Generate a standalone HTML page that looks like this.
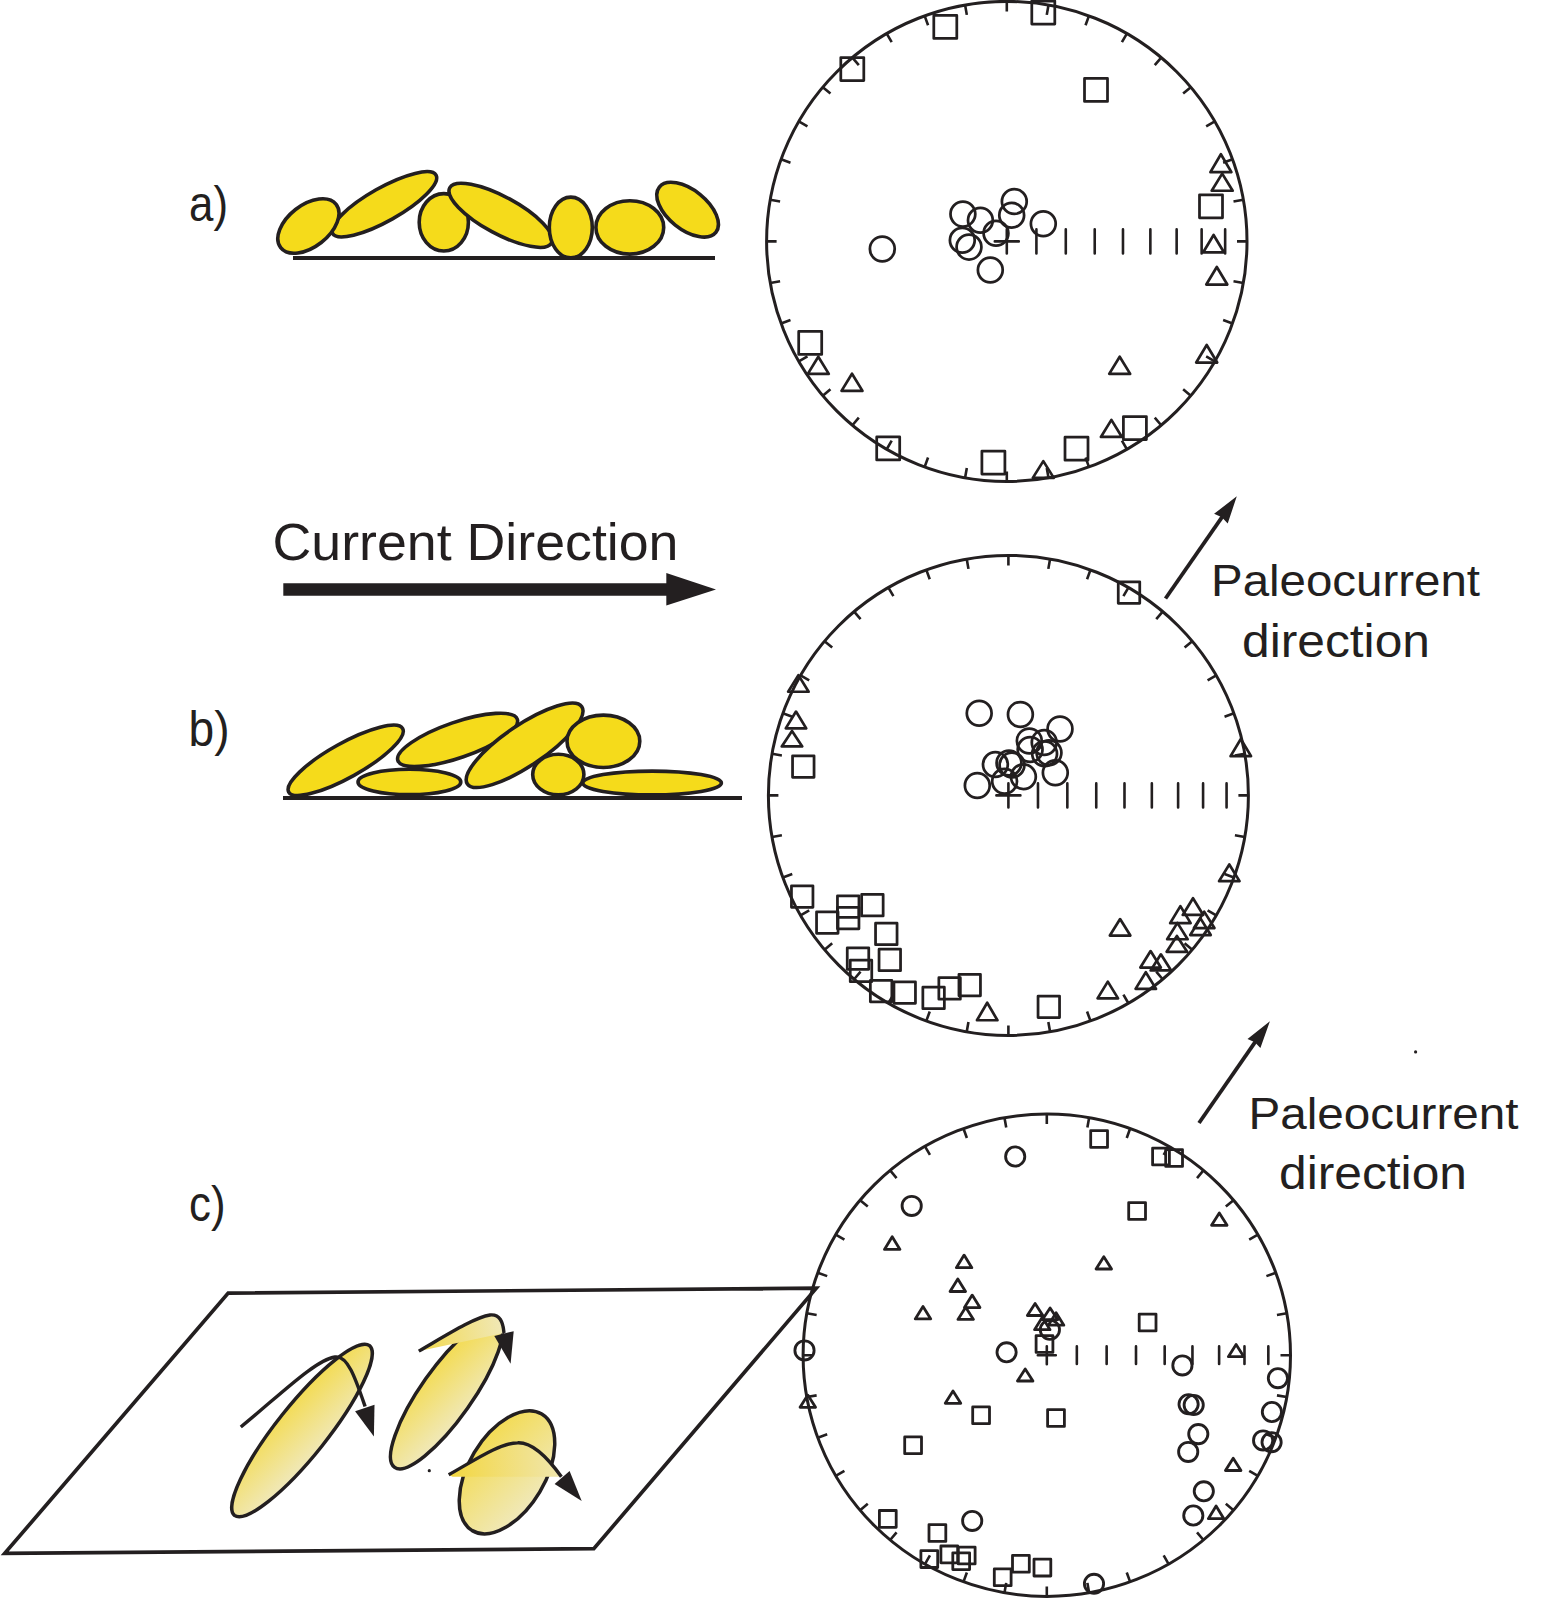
<!DOCTYPE html>
<html><head><meta charset="utf-8"><style>
html,body{margin:0;padding:0;background:#fff;}
svg{display:block;}
</style></head><body>
<svg width="1545" height="1621" viewBox="0 0 1545 1621">
<rect width="1545" height="1621" fill="#fff"/>
<ellipse cx="1006.8" cy="241.4" rx="240.2" ry="240.0" fill="none" stroke="#231F20" stroke-width="3.0"/>
<path d="M1006.80 1.40L1006.80 11.40M1048.51 5.05L1046.77 14.89M1088.95 15.87L1085.53 25.27M1126.90 33.55L1121.90 42.21M1161.20 57.55L1154.77 65.21M1190.80 87.13L1183.14 93.56M1214.82 121.40L1206.16 126.40M1232.51 159.32L1223.12 162.74M1243.35 199.72L1233.50 201.46M1247.00 241.40L1237.00 241.40M1243.35 283.08L1233.50 281.34M1232.51 323.48L1223.12 320.06M1214.82 361.40L1206.16 356.40M1190.80 395.67L1183.14 389.24M1161.20 425.25L1154.77 417.59M1126.90 449.25L1121.90 440.59M1088.95 466.93L1085.53 457.53M1048.51 477.75L1046.77 467.91M1006.80 481.40L1006.80 471.40M965.09 477.75L966.83 467.91M924.65 466.93L928.07 457.53M886.70 449.25L891.70 440.59M852.40 425.25L858.83 417.59M822.80 395.67L830.46 389.24M798.78 361.40L807.44 356.40M781.09 323.48L790.48 320.06M770.25 283.08L780.10 281.34M766.60 241.40L776.60 241.40M770.25 199.72L780.10 201.46M781.09 159.32L790.48 162.74M798.78 121.40L807.44 126.40M822.80 87.13L830.46 93.56M852.40 57.55L858.83 65.21M886.70 33.55L891.70 42.21M924.65 15.87L928.07 25.27M965.09 5.05L966.83 14.89" stroke="#231F20" stroke-width="2.6" fill="none"/>
<path d="M1036.41 229.40V253.40M1065.79 229.40V253.40M1094.72 229.40V253.40M1122.98 229.40V253.40M1150.36 229.40V253.40M1176.65 229.40V253.40M1201.64 229.40V253.40M1225.15 229.40V253.40M994.80 241.40H1018.80M1006.80 229.40V253.40" stroke="#231F20" stroke-width="2.6" stroke-linecap="round" fill="none"/>
<rect x="840.80" y="57.50" width="23" height="23" fill="none" stroke="#231F20" stroke-width="2.75" stroke-linejoin="round"/>
<rect x="933.80" y="15.40" width="23" height="23" fill="none" stroke="#231F20" stroke-width="2.75" stroke-linejoin="round"/>
<rect x="1031.80" y="1.00" width="23" height="23" fill="none" stroke="#231F20" stroke-width="2.75" stroke-linejoin="round"/>
<rect x="1084.50" y="78.40" width="23" height="23" fill="none" stroke="#231F20" stroke-width="2.75" stroke-linejoin="round"/>
<rect x="1199.50" y="194.80" width="23" height="23" fill="none" stroke="#231F20" stroke-width="2.75" stroke-linejoin="round"/>
<rect x="798.70" y="331.40" width="23" height="23" fill="none" stroke="#231F20" stroke-width="2.75" stroke-linejoin="round"/>
<rect x="876.70" y="436.90" width="23" height="23" fill="none" stroke="#231F20" stroke-width="2.75" stroke-linejoin="round"/>
<rect x="981.90" y="451.10" width="23" height="23" fill="none" stroke="#231F20" stroke-width="2.75" stroke-linejoin="round"/>
<rect x="1123.40" y="416.50" width="23" height="23" fill="none" stroke="#231F20" stroke-width="2.75" stroke-linejoin="round"/>
<rect x="1065.00" y="437.20" width="23" height="23" fill="none" stroke="#231F20" stroke-width="2.75" stroke-linejoin="round"/>
<path d="M1220.90 154.25L1231.40 172.15L1210.40 172.15Z" fill="none" stroke="#231F20" stroke-width="2.7" stroke-linejoin="round"/>
<path d="M1222.20 173.65L1232.70 190.75L1211.70 190.75Z" fill="none" stroke="#231F20" stroke-width="2.7" stroke-linejoin="round"/>
<path d="M1213.60 234.95L1224.10 252.45L1203.10 252.45Z" fill="none" stroke="#231F20" stroke-width="2.7" stroke-linejoin="round"/>
<path d="M1216.80 266.95L1227.30 284.55L1206.30 284.55Z" fill="none" stroke="#231F20" stroke-width="2.7" stroke-linejoin="round"/>
<path d="M1206.70 344.95L1217.20 362.55L1196.20 362.55Z" fill="none" stroke="#231F20" stroke-width="2.7" stroke-linejoin="round"/>
<path d="M1119.70 356.75L1130.20 373.85L1109.20 373.85Z" fill="none" stroke="#231F20" stroke-width="2.7" stroke-linejoin="round"/>
<path d="M1111.40 419.85L1121.90 436.95L1100.90 436.95Z" fill="none" stroke="#231F20" stroke-width="2.7" stroke-linejoin="round"/>
<path d="M1043.30 461.15L1053.80 477.85L1032.80 477.85Z" fill="none" stroke="#231F20" stroke-width="2.7" stroke-linejoin="round"/>
<path d="M818.30 356.75L828.80 373.85L807.80 373.85Z" fill="none" stroke="#231F20" stroke-width="2.7" stroke-linejoin="round"/>
<path d="M852.00 373.75L862.50 390.85L841.50 390.85Z" fill="none" stroke="#231F20" stroke-width="2.7" stroke-linejoin="round"/>
<circle cx="882.30" cy="248.90" r="12.4" fill="none" stroke="#231F20" stroke-width="2.75"/>
<circle cx="962.90" cy="214.10" r="12.4" fill="none" stroke="#231F20" stroke-width="2.75"/>
<circle cx="980.40" cy="220.20" r="12.4" fill="none" stroke="#231F20" stroke-width="2.75"/>
<circle cx="1014.30" cy="201.50" r="12.4" fill="none" stroke="#231F20" stroke-width="2.75"/>
<circle cx="1011.70" cy="215.30" r="12.4" fill="none" stroke="#231F20" stroke-width="2.75"/>
<circle cx="1043.30" cy="223.80" r="12.4" fill="none" stroke="#231F20" stroke-width="2.75"/>
<circle cx="996.00" cy="233.20" r="12.4" fill="none" stroke="#231F20" stroke-width="2.75"/>
<circle cx="962.30" cy="240.20" r="12.4" fill="none" stroke="#231F20" stroke-width="2.75"/>
<circle cx="969.00" cy="247.10" r="12.4" fill="none" stroke="#231F20" stroke-width="2.75"/>
<circle cx="990.30" cy="270.00" r="12.4" fill="none" stroke="#231F20" stroke-width="2.75"/>
<ellipse cx="1008.4" cy="795.4" rx="240.0" ry="240.0" fill="none" stroke="#231F20" stroke-width="3.0"/>
<path d="M1008.40 555.40L1008.40 565.40M1050.08 559.05L1048.34 568.89M1090.48 569.87L1087.06 579.27M1128.40 587.55L1123.40 596.21M1162.67 611.55L1156.24 619.21M1192.25 641.13L1184.59 647.56M1216.25 675.40L1207.59 680.40M1233.93 713.32L1224.53 716.74M1244.75 753.72L1234.91 755.46M1248.40 795.40L1238.40 795.40M1244.75 837.08L1234.91 835.34M1233.93 877.48L1224.53 874.06M1216.25 915.40L1207.59 910.40M1192.25 949.67L1184.59 943.24M1162.67 979.25L1156.24 971.59M1128.40 1003.25L1123.40 994.59M1090.48 1020.93L1087.06 1011.53M1050.08 1031.75L1048.34 1021.91M1008.40 1035.40L1008.40 1025.40M966.72 1031.75L968.46 1021.91M926.32 1020.93L929.74 1011.53M888.40 1003.25L893.40 994.59M854.13 979.25L860.56 971.59M824.55 949.67L832.21 943.24M800.55 915.40L809.21 910.40M782.87 877.48L792.27 874.06M772.05 837.08L781.89 835.34M768.40 795.40L778.40 795.40M772.05 753.72L781.89 755.46M782.87 713.32L792.27 716.74M800.55 675.40L809.21 680.40M824.55 641.13L832.21 647.56M854.13 611.55L860.56 619.21M888.40 587.55L893.40 596.21M926.32 569.87L929.74 579.27M966.72 559.05L968.46 568.89" stroke="#231F20" stroke-width="2.6" fill="none"/>
<path d="M1037.98 783.40V807.40M1067.34 783.40V807.40M1096.25 783.40V807.40M1124.49 783.40V807.40M1151.84 783.40V807.40M1178.11 783.40V807.40M1203.08 783.40V807.40M1226.57 783.40V807.40M996.40 795.40H1020.40M1008.40 783.40V807.40" stroke="#231F20" stroke-width="2.6" stroke-linecap="round" fill="none"/>
<rect x="1118.25" y="581.75" width="21.5" height="21.5" fill="none" stroke="#231F20" stroke-width="2.75" stroke-linejoin="round"/>
<rect x="792.55" y="755.85" width="21.5" height="21.5" fill="none" stroke="#231F20" stroke-width="2.75" stroke-linejoin="round"/>
<rect x="791.45" y="885.75" width="21.5" height="21.5" fill="none" stroke="#231F20" stroke-width="2.75" stroke-linejoin="round"/>
<rect x="837.45" y="895.75" width="21.5" height="21.5" fill="none" stroke="#231F20" stroke-width="2.75" stroke-linejoin="round"/>
<rect x="837.45" y="907.35" width="21.5" height="21.5" fill="none" stroke="#231F20" stroke-width="2.75" stroke-linejoin="round"/>
<rect x="861.65" y="894.45" width="21.5" height="21.5" fill="none" stroke="#231F20" stroke-width="2.75" stroke-linejoin="round"/>
<rect x="816.55" y="911.75" width="21.5" height="21.5" fill="none" stroke="#231F20" stroke-width="2.75" stroke-linejoin="round"/>
<rect x="875.55" y="923.15" width="21.5" height="21.5" fill="none" stroke="#231F20" stroke-width="2.75" stroke-linejoin="round"/>
<rect x="847.25" y="947.85" width="21.5" height="21.5" fill="none" stroke="#231F20" stroke-width="2.75" stroke-linejoin="round"/>
<rect x="850.25" y="960.15" width="21.5" height="21.5" fill="none" stroke="#231F20" stroke-width="2.75" stroke-linejoin="round"/>
<rect x="879.05" y="949.15" width="21.5" height="21.5" fill="none" stroke="#231F20" stroke-width="2.75" stroke-linejoin="round"/>
<rect x="870.35" y="980.25" width="21.5" height="21.5" fill="none" stroke="#231F20" stroke-width="2.75" stroke-linejoin="round"/>
<rect x="893.95" y="981.85" width="21.5" height="21.5" fill="none" stroke="#231F20" stroke-width="2.75" stroke-linejoin="round"/>
<rect x="922.85" y="987.15" width="21.5" height="21.5" fill="none" stroke="#231F20" stroke-width="2.75" stroke-linejoin="round"/>
<rect x="938.85" y="977.65" width="21.5" height="21.5" fill="none" stroke="#231F20" stroke-width="2.75" stroke-linejoin="round"/>
<rect x="958.95" y="974.35" width="21.5" height="21.5" fill="none" stroke="#231F20" stroke-width="2.75" stroke-linejoin="round"/>
<rect x="1038.05" y="996.05" width="21.5" height="21.5" fill="none" stroke="#231F20" stroke-width="2.75" stroke-linejoin="round"/>
<path d="M798.40 675.15L808.65 691.75L788.15 691.75Z" fill="none" stroke="#231F20" stroke-width="2.7" stroke-linejoin="round"/>
<path d="M796.00 711.55L806.25 728.35L785.75 728.35Z" fill="none" stroke="#231F20" stroke-width="2.7" stroke-linejoin="round"/>
<path d="M792.00 730.95L802.25 746.45L781.75 746.45Z" fill="none" stroke="#231F20" stroke-width="2.7" stroke-linejoin="round"/>
<path d="M1240.80 739.05L1251.05 756.15L1230.55 756.15Z" fill="none" stroke="#231F20" stroke-width="2.7" stroke-linejoin="round"/>
<path d="M1229.30 864.45L1239.55 881.15L1219.05 881.15Z" fill="none" stroke="#231F20" stroke-width="2.7" stroke-linejoin="round"/>
<path d="M1193.00 898.25L1203.25 914.95L1182.75 914.95Z" fill="none" stroke="#231F20" stroke-width="2.7" stroke-linejoin="round"/>
<path d="M1180.40 906.15L1190.65 923.15L1170.15 923.15Z" fill="none" stroke="#231F20" stroke-width="2.7" stroke-linejoin="round"/>
<path d="M1204.20 911.65L1214.45 928.05L1193.95 928.05Z" fill="none" stroke="#231F20" stroke-width="2.7" stroke-linejoin="round"/>
<path d="M1200.50 918.35L1210.75 935.05L1190.25 935.05Z" fill="none" stroke="#231F20" stroke-width="2.7" stroke-linejoin="round"/>
<path d="M1177.40 922.85L1187.65 939.25L1167.15 939.25Z" fill="none" stroke="#231F20" stroke-width="2.7" stroke-linejoin="round"/>
<path d="M1176.90 935.95L1187.15 951.85L1166.65 951.85Z" fill="none" stroke="#231F20" stroke-width="2.7" stroke-linejoin="round"/>
<path d="M1120.10 919.05L1130.35 935.55L1109.85 935.55Z" fill="none" stroke="#231F20" stroke-width="2.7" stroke-linejoin="round"/>
<path d="M1150.60 951.05L1160.85 967.55L1140.35 967.55Z" fill="none" stroke="#231F20" stroke-width="2.7" stroke-linejoin="round"/>
<path d="M1160.90 954.35L1171.15 970.45L1150.65 970.45Z" fill="none" stroke="#231F20" stroke-width="2.7" stroke-linejoin="round"/>
<path d="M1145.80 972.25L1156.05 988.85L1135.55 988.85Z" fill="none" stroke="#231F20" stroke-width="2.7" stroke-linejoin="round"/>
<path d="M1107.80 981.65L1118.05 998.35L1097.55 998.35Z" fill="none" stroke="#231F20" stroke-width="2.7" stroke-linejoin="round"/>
<path d="M987.20 1002.75L997.45 1020.25L976.95 1020.25Z" fill="none" stroke="#231F20" stroke-width="2.7" stroke-linejoin="round"/>
<circle cx="979.20" cy="713.30" r="12.4" fill="none" stroke="#231F20" stroke-width="2.75"/>
<circle cx="1020.40" cy="714.40" r="12.4" fill="none" stroke="#231F20" stroke-width="2.75"/>
<circle cx="1060.00" cy="728.90" r="12.4" fill="none" stroke="#231F20" stroke-width="2.75"/>
<circle cx="977.30" cy="785.50" r="12.4" fill="none" stroke="#231F20" stroke-width="2.75"/>
<circle cx="1055.30" cy="772.70" r="12.4" fill="none" stroke="#231F20" stroke-width="2.75"/>
<circle cx="1023.40" cy="776.70" r="12.4" fill="none" stroke="#231F20" stroke-width="2.75"/>
<circle cx="995.40" cy="764.50" r="12.4" fill="none" stroke="#231F20" stroke-width="2.75"/>
<circle cx="1009.00" cy="763.00" r="12.4" fill="none" stroke="#231F20" stroke-width="2.75"/>
<circle cx="1012.00" cy="765.00" r="12.4" fill="none" stroke="#231F20" stroke-width="2.75"/>
<circle cx="1004.60" cy="781.30" r="12.4" fill="none" stroke="#231F20" stroke-width="2.75"/>
<circle cx="1029.30" cy="740.90" r="12.4" fill="none" stroke="#231F20" stroke-width="2.75"/>
<circle cx="1030.10" cy="749.50" r="12.4" fill="none" stroke="#231F20" stroke-width="2.75"/>
<circle cx="1044.20" cy="742.40" r="12.4" fill="none" stroke="#231F20" stroke-width="2.75"/>
<circle cx="1044.60" cy="753.70" r="12.4" fill="none" stroke="#231F20" stroke-width="2.75"/>
<circle cx="1049.00" cy="752.70" r="12.4" fill="none" stroke="#231F20" stroke-width="2.75"/>
<ellipse cx="1046.8" cy="1355.2" rx="243.7" ry="241.2" fill="none" stroke="#231F20" stroke-width="3.0"/>
<path d="M1046.80 1114.00L1046.80 1124.00M1089.12 1117.66L1087.38 1127.51M1130.15 1128.55L1126.73 1137.94M1168.65 1146.31L1163.65 1154.97M1203.45 1170.43L1197.02 1178.09M1233.49 1200.16L1225.82 1206.59M1257.85 1234.60L1249.19 1239.60M1275.80 1272.70L1266.41 1276.12M1286.80 1313.32L1276.95 1315.05M1290.50 1355.20L1280.50 1355.20M1286.80 1397.08L1276.95 1395.35M1275.80 1437.70L1266.41 1434.28M1257.85 1475.80L1249.19 1470.80M1233.49 1510.24L1225.82 1503.81M1203.45 1539.97L1197.02 1532.31M1168.65 1564.09L1163.65 1555.43M1130.15 1581.85L1126.73 1572.46M1089.12 1592.74L1087.38 1582.89M1046.80 1596.40L1046.80 1586.40M1004.48 1592.74L1006.22 1582.89M963.45 1581.85L966.87 1572.46M924.95 1564.09L929.95 1555.43M890.15 1539.97L896.58 1532.31M860.11 1510.24L867.78 1503.81M835.75 1475.80L844.41 1470.80M817.80 1437.70L827.19 1434.28M806.80 1397.08L816.65 1395.35M803.10 1355.20L813.10 1355.20M806.80 1313.32L816.65 1315.05M817.80 1272.70L827.19 1276.12M835.75 1234.60L844.41 1239.60M860.11 1200.16L867.78 1206.59M890.15 1170.43L896.58 1178.09M924.95 1146.31L929.95 1154.97M963.45 1128.55L966.87 1137.94M1004.48 1117.66L1006.22 1127.51" stroke="#231F20" stroke-width="2.6" fill="none"/>
<path d="M1076.84 1346.40V1364.00M1106.65 1346.40V1364.00M1136.00 1346.40V1364.00M1164.68 1346.40V1364.00M1192.45 1346.40V1364.00M1219.12 1346.40V1364.00M1244.48 1346.40V1364.00M1268.33 1346.40V1364.00M1037.80 1355.20H1055.80M1046.80 1346.20V1364.20" stroke="#231F20" stroke-width="2.6" stroke-linecap="round" fill="none"/>
<rect x="1090.70" y="1130.60" width="16.8" height="16.8" fill="none" stroke="#231F20" stroke-width="2.8" stroke-linejoin="round"/>
<rect x="1152.60" y="1148.10" width="16.8" height="16.8" fill="none" stroke="#231F20" stroke-width="2.8" stroke-linejoin="round"/>
<rect x="1165.70" y="1149.60" width="16.8" height="16.8" fill="none" stroke="#231F20" stroke-width="2.8" stroke-linejoin="round"/>
<rect x="1128.70" y="1202.60" width="16.8" height="16.8" fill="none" stroke="#231F20" stroke-width="2.8" stroke-linejoin="round"/>
<rect x="1139.20" y="1314.10" width="16.8" height="16.8" fill="none" stroke="#231F20" stroke-width="2.8" stroke-linejoin="round"/>
<rect x="1036.10" y="1335.60" width="16.8" height="16.8" fill="none" stroke="#231F20" stroke-width="2.8" stroke-linejoin="round"/>
<rect x="972.70" y="1406.90" width="16.8" height="16.8" fill="none" stroke="#231F20" stroke-width="2.8" stroke-linejoin="round"/>
<rect x="1047.60" y="1409.60" width="16.8" height="16.8" fill="none" stroke="#231F20" stroke-width="2.8" stroke-linejoin="round"/>
<rect x="904.70" y="1436.90" width="16.8" height="16.8" fill="none" stroke="#231F20" stroke-width="2.8" stroke-linejoin="round"/>
<rect x="879.40" y="1510.50" width="16.8" height="16.8" fill="none" stroke="#231F20" stroke-width="2.8" stroke-linejoin="round"/>
<rect x="929.00" y="1524.60" width="16.8" height="16.8" fill="none" stroke="#231F20" stroke-width="2.8" stroke-linejoin="round"/>
<rect x="920.90" y="1550.70" width="16.8" height="16.8" fill="none" stroke="#231F20" stroke-width="2.8" stroke-linejoin="round"/>
<rect x="940.90" y="1546.00" width="16.8" height="16.8" fill="none" stroke="#231F20" stroke-width="2.8" stroke-linejoin="round"/>
<rect x="958.30" y="1547.10" width="16.8" height="16.8" fill="none" stroke="#231F20" stroke-width="2.8" stroke-linejoin="round"/>
<rect x="952.80" y="1552.80" width="16.8" height="16.8" fill="none" stroke="#231F20" stroke-width="2.8" stroke-linejoin="round"/>
<rect x="994.30" y="1568.90" width="16.8" height="16.8" fill="none" stroke="#231F20" stroke-width="2.8" stroke-linejoin="round"/>
<rect x="1012.50" y="1555.40" width="16.8" height="16.8" fill="none" stroke="#231F20" stroke-width="2.8" stroke-linejoin="round"/>
<rect x="1034.00" y="1559.20" width="16.8" height="16.8" fill="none" stroke="#231F20" stroke-width="2.8" stroke-linejoin="round"/>
<path d="M892.20 1236.80L899.95 1249.40L884.45 1249.40Z" fill="none" stroke="#231F20" stroke-width="2.8" stroke-linejoin="round"/>
<path d="M964.10 1255.10L971.85 1267.70L956.35 1267.70Z" fill="none" stroke="#231F20" stroke-width="2.8" stroke-linejoin="round"/>
<path d="M957.80 1278.90L965.55 1291.50L950.05 1291.50Z" fill="none" stroke="#231F20" stroke-width="2.8" stroke-linejoin="round"/>
<path d="M972.20 1295.10L979.95 1307.60L964.45 1307.60Z" fill="none" stroke="#231F20" stroke-width="2.8" stroke-linejoin="round"/>
<path d="M965.70 1307.20L973.45 1319.40L957.95 1319.40Z" fill="none" stroke="#231F20" stroke-width="2.8" stroke-linejoin="round"/>
<path d="M923.00 1306.40L930.75 1318.90L915.25 1318.90Z" fill="none" stroke="#231F20" stroke-width="2.8" stroke-linejoin="round"/>
<path d="M1035.10 1303.40L1042.85 1315.50L1027.35 1315.50Z" fill="none" stroke="#231F20" stroke-width="2.8" stroke-linejoin="round"/>
<path d="M1050.10 1307.90L1057.85 1319.70L1042.35 1319.70Z" fill="none" stroke="#231F20" stroke-width="2.8" stroke-linejoin="round"/>
<path d="M1056.10 1312.80L1063.85 1325.20L1048.35 1325.20Z" fill="none" stroke="#231F20" stroke-width="2.8" stroke-linejoin="round"/>
<path d="M1042.30 1317.30L1050.05 1329.70L1034.55 1329.70Z" fill="none" stroke="#231F20" stroke-width="2.8" stroke-linejoin="round"/>
<path d="M1103.80 1256.70L1111.55 1269.00L1096.05 1269.00Z" fill="none" stroke="#231F20" stroke-width="2.8" stroke-linejoin="round"/>
<path d="M1219.30 1213.00L1227.05 1225.30L1211.55 1225.30Z" fill="none" stroke="#231F20" stroke-width="2.8" stroke-linejoin="round"/>
<path d="M1236.10 1344.40L1243.85 1356.70L1228.35 1356.70Z" fill="none" stroke="#231F20" stroke-width="2.8" stroke-linejoin="round"/>
<path d="M1025.20 1368.90L1032.95 1381.00L1017.45 1381.00Z" fill="none" stroke="#231F20" stroke-width="2.8" stroke-linejoin="round"/>
<path d="M953.00 1391.00L960.75 1403.30L945.25 1403.30Z" fill="none" stroke="#231F20" stroke-width="2.8" stroke-linejoin="round"/>
<path d="M807.80 1395.10L815.55 1407.30L800.05 1407.30Z" fill="none" stroke="#231F20" stroke-width="2.8" stroke-linejoin="round"/>
<path d="M1233.20 1458.20L1240.95 1470.50L1225.45 1470.50Z" fill="none" stroke="#231F20" stroke-width="2.8" stroke-linejoin="round"/>
<path d="M1216.10 1505.90L1223.85 1518.70L1208.35 1518.70Z" fill="none" stroke="#231F20" stroke-width="2.8" stroke-linejoin="round"/>
<circle cx="1015.20" cy="1156.50" r="9.6" fill="none" stroke="#231F20" stroke-width="2.85"/>
<circle cx="911.70" cy="1205.90" r="9.6" fill="none" stroke="#231F20" stroke-width="2.85"/>
<circle cx="1006.60" cy="1352.30" r="9.6" fill="none" stroke="#231F20" stroke-width="2.85"/>
<circle cx="1049.90" cy="1329.80" r="9.6" fill="none" stroke="#231F20" stroke-width="2.85"/>
<circle cx="804.50" cy="1350.40" r="9.6" fill="none" stroke="#231F20" stroke-width="2.85"/>
<circle cx="1182.40" cy="1365.40" r="9.6" fill="none" stroke="#231F20" stroke-width="2.85"/>
<circle cx="1277.90" cy="1378.20" r="9.6" fill="none" stroke="#231F20" stroke-width="2.85"/>
<circle cx="1188.60" cy="1404.20" r="9.6" fill="none" stroke="#231F20" stroke-width="2.85"/>
<circle cx="1193.70" cy="1405.00" r="9.6" fill="none" stroke="#231F20" stroke-width="2.85"/>
<circle cx="1271.90" cy="1412.00" r="9.6" fill="none" stroke="#231F20" stroke-width="2.85"/>
<circle cx="1198.30" cy="1434.10" r="9.6" fill="none" stroke="#231F20" stroke-width="2.85"/>
<circle cx="1188.20" cy="1451.90" r="9.6" fill="none" stroke="#231F20" stroke-width="2.85"/>
<circle cx="1263.10" cy="1440.40" r="9.6" fill="none" stroke="#231F20" stroke-width="2.85"/>
<circle cx="1271.60" cy="1442.20" r="9.6" fill="none" stroke="#231F20" stroke-width="2.85"/>
<circle cx="1203.80" cy="1491.30" r="9.6" fill="none" stroke="#231F20" stroke-width="2.85"/>
<circle cx="1193.30" cy="1515.50" r="9.6" fill="none" stroke="#231F20" stroke-width="2.85"/>
<circle cx="972.20" cy="1520.90" r="9.6" fill="none" stroke="#231F20" stroke-width="2.85"/>
<circle cx="1094.00" cy="1583.80" r="9.6" fill="none" stroke="#231F20" stroke-width="2.85"/>
<path d="M293 258H715" stroke="#231F20" stroke-width="3.9"/>
<ellipse cx="0" cy="0" rx="59.400000000000006" ry="16.7" transform="translate(384.3 204.3) rotate(-29.4)" fill="#F5DB1B" stroke="#231F20" stroke-width="3.6"/>
<ellipse cx="0" cy="0" rx="35.2" ry="20.9" transform="translate(308.4 226) rotate(-38)" fill="#F5DB1B" stroke="#231F20" stroke-width="3.6"/>
<ellipse cx="0" cy="0" rx="24.599999999999998" ry="28.7" transform="translate(443.8 222.3) rotate(0)" fill="#F5DB1B" stroke="#231F20" stroke-width="3.6"/>
<ellipse cx="0" cy="0" rx="57.900000000000006" ry="18.599999999999998" transform="translate(500.7 215.3) rotate(28.4)" fill="#F5DB1B" stroke="#231F20" stroke-width="3.6"/>
<ellipse cx="0" cy="0" rx="21.5" ry="30.400000000000002" transform="translate(570.8 227.5) rotate(0)" fill="#F5DB1B" stroke="#231F20" stroke-width="3.6"/>
<ellipse cx="0" cy="0" rx="33.900000000000006" ry="26.7" transform="translate(629.8 227.4) rotate(0)" fill="#F5DB1B" stroke="#231F20" stroke-width="3.6"/>
<ellipse cx="0" cy="0" rx="36.2" ry="19.7" transform="translate(687.6 209.7) rotate(38.7)" fill="#F5DB1B" stroke="#231F20" stroke-width="3.6"/>
<path d="M283 798H742" stroke="#231F20" stroke-width="3.9"/>
<ellipse cx="0" cy="0" rx="51.400000000000006" ry="12.7" transform="translate(409.4 781.9) rotate(0)" fill="#F5DB1B" stroke="#231F20" stroke-width="3.6"/>
<ellipse cx="0" cy="0" rx="63.2" ry="17.8" transform="translate(457.6 739.9) rotate(-19.1)" fill="#F5DB1B" stroke="#231F20" stroke-width="3.6"/>
<ellipse cx="0" cy="0" rx="65.2" ry="17.2" transform="translate(345.7 760.3) rotate(-29.1)" fill="#F5DB1B" stroke="#231F20" stroke-width="3.6"/>
<ellipse cx="0" cy="0" rx="69.0" ry="20.5" transform="translate(524.6 745.3) rotate(-34)" fill="#F5DB1B" stroke="#231F20" stroke-width="3.6"/>
<ellipse cx="0" cy="0" rx="69.3" ry="11.899999999999999" transform="translate(652.1 783) rotate(0)" fill="#F5DB1B" stroke="#231F20" stroke-width="3.6"/>
<ellipse cx="0" cy="0" rx="36.400000000000006" ry="26.2" transform="translate(603.4 741.3) rotate(0)" fill="#F5DB1B" stroke="#231F20" stroke-width="3.6"/>
<ellipse cx="0" cy="0" rx="25.599999999999998" ry="20.3" transform="translate(558.3 774.6) rotate(0)" fill="#F5DB1B" stroke="#231F20" stroke-width="3.6"/>
<g font-family="Liberation Sans, sans-serif" fill="#231F20">
<text x="189" y="221" font-size="49.5" textLength="39" lengthAdjust="spacingAndGlyphs">a)</text>
<text x="188.5" y="745.6" font-size="49.5" textLength="41" lengthAdjust="spacingAndGlyphs">b)</text>
<text x="189" y="1220.5" font-size="49.5" textLength="36.5" lengthAdjust="spacingAndGlyphs">c)</text>
<text x="272.5" y="559.6" font-size="52" textLength="406" lengthAdjust="spacingAndGlyphs">Current Direction</text>
<text x="1211" y="596" font-size="45" textLength="269" lengthAdjust="spacingAndGlyphs">Paleocurrent</text>
<text x="1242" y="656.5" font-size="46" textLength="188" lengthAdjust="spacingAndGlyphs">direction</text>
<text x="1248.5" y="1129.4" font-size="45" textLength="270" lengthAdjust="spacingAndGlyphs">Paleocurrent</text>
<text x="1279" y="1189.4" font-size="46" textLength="188" lengthAdjust="spacingAndGlyphs">direction</text>
</g>
<path d="M283.3 583.3H667V595.7H283.3Z" fill="#231F20"/>
<path d="M666.3 573L716 589.5L666.3 605.6Z" fill="#231F20"/>
<path d="M1165.5 598.5L1225.67 511.94" stroke="#231F20" stroke-width="3.8"/>
<path d="M1236.8 496.3L1214.1 513.8L1221.85 517.31L1227.7 523.5Z" fill="#231F20"/>
<path d="M1199 1123L1258.74 1036.88" stroke="#231F20" stroke-width="3.8"/>
<path d="M1269.9 1021.3L1247.5 1039L1254.91 1042.21L1260.4 1048.1Z" fill="#231F20"/>
<circle cx="1415.6" cy="1051.9" r="1.6" fill="#231F20"/>
<path d="M228.2 1293.1L816.3 1288.2L593.8 1548.7L4.7 1553.4Z" fill="none" stroke="#231F20" stroke-width="3.7" stroke-miterlimit="10"/>
<linearGradient id="gr1" gradientUnits="userSpaceOnUse" x1="278.1" y1="1406.6" x2="325.9" y2="1454.4"><stop offset="0" stop-color="#F3DA4A"/><stop offset="1" stop-color="#F0EAC4"/></linearGradient>
<path d="M369.54 1345.59A108.5 25.5 -51.5 0 1 234.46 1515.41A108.5 25.5 -51.5 0 1 369.54 1345.59Z" fill="url(#gr1)" stroke="#231F20" stroke-width="3.5"/>
<path d="M240.8 1427C280 1395 315 1360 335 1357C348 1355 356 1380 365.1 1406.5" fill="none" stroke="#231F20" stroke-width="3.4"/>
<path d="M355.1 1411.2L374.5 1404.7L373.9 1436.4Z" fill="#231F20"/>
<linearGradient id="gr2" gradientUnits="userSpaceOnUse" x1="421.5" y1="1368.5" x2="471.7" y2="1418.7"><stop offset="0" stop-color="#F3DA4A"/><stop offset="1" stop-color="#F0EAC4"/></linearGradient>
<path d="M498.59 1319.89A90.2 25.6 -54.8 0 1 394.61 1467.31A90.2 25.6 -54.8 0 1 498.59 1319.89Z" fill="url(#gr2)" stroke="#231F20" stroke-width="3.5"/>
<linearGradient id="gr3" gradientUnits="userSpaceOnUse" x1="420.0" y1="1340.0" x2="504.0" y2="1330.0"><stop offset="0" stop-color="#F2D94E"/><stop offset="1" stop-color="#F0E8B8"/></linearGradient>
<path d="M418.8 1351.1C445 1336 475 1317 490 1315C500 1314 503 1322 504 1333L421.9 1350.6Z" fill="url(#gr3)"/>
<path d="M418.8 1351.1C445 1336 475 1317 490 1315C500 1314 503 1322 504 1333" fill="none" stroke="#231F20" stroke-width="3.4"/>
<path d="M494.3 1335.9L513.7 1331.2L510.6 1363.7Z" fill="#231F20"/>
<linearGradient id="gr4" gradientUnits="userSpaceOnUse" x1="472.3" y1="1437.6" x2="541.7" y2="1507.0"><stop offset="0" stop-color="#F3DA4A"/><stop offset="1" stop-color="#F0EAC4"/></linearGradient>
<path d="M541.77 1413.98A67.9 38.5 -59.2 0 1 472.23 1530.62A67.9 38.5 -59.2 0 1 541.77 1413.98Z" fill="url(#gr4)" stroke="#231F20" stroke-width="3.5"/>
<linearGradient id="gr5" gradientUnits="userSpaceOnUse" x1="450.0" y1="1465.0" x2="562.0" y2="1465.0"><stop offset="0" stop-color="#F3D740"/><stop offset="1" stop-color="#F0E6AE"/></linearGradient>
<path d="M448.7 1474.8C475 1460 500 1443 517.7 1442.7C533 1442 548 1458 561.4 1476.7L452.6 1476.7Z" fill="url(#gr5)"/>
<path d="M448.7 1474.8C475 1460 500 1443 517.7 1442.7C533 1442 548 1458 561.4 1476.7" fill="none" stroke="#231F20" stroke-width="3.4"/>
<path d="M554.6 1484L569.6 1470.9L581.7 1501Z" fill="#231F20"/>
<circle cx="429.3" cy="1470.7" r="1.6" fill="#231F20"/>
</svg></body></html>
